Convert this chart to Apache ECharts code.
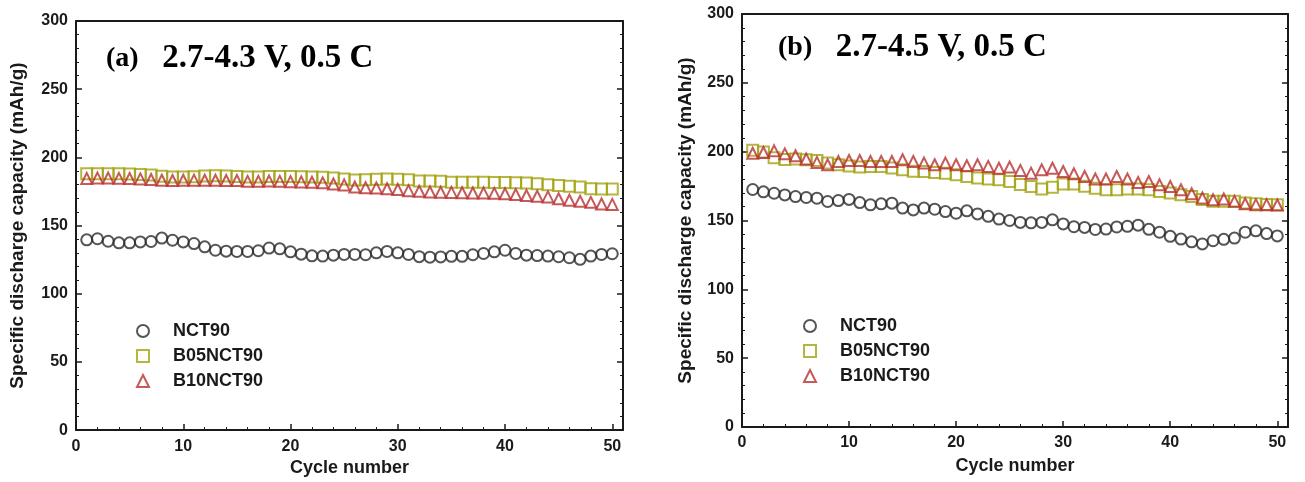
<!DOCTYPE html>
<html>
<head>
<meta charset="utf-8">
<script src="https://cdn.jsdelivr.net/npm/echarts@6/dist/echarts.min.js"></script>
<style>
  html, body { margin: 0; padding: 0; background: #fff; }
  #chart { width: 1305px; height: 482px; }
</style>
</head>
<body>
<div id="chart"></div>
<script>
// Cycle index shared by both panels
const cycles = [1,2,3,4,5,6,7,8,9,10,11,12,13,14,15,16,17,18,19,20,21,22,23,24,25,
                26,27,28,29,30,31,32,33,34,35,36,37,38,39,40,41,42,43,44,45,46,47,48,49,50];

// Panel (a): 2.7-4.3 V, 0.5 C  (mAh/g)
const nct90A = [139.5,140.3,138.5,137.3,137.3,138.0,138.3,140.8,139.2,138.0,136.8,134.4,131.9,131.2,131.0,
                131.0,131.5,133.5,132.9,130.7,129.0,127.8,127.6,128.3,128.8,128.8,128.6,130.0,131.0,130.0,
                128.8,127.2,126.8,127.0,127.4,127.4,128.6,129.5,130.7,131.9,129.5,128.3,128.0,127.6,127.1,
                126.4,125.2,127.6,128.8,129.3];
const b05A   = [188.0,188.0,188.0,188.0,187.8,187.5,187.0,186.1,185.6,185.6,185.8,186.4,186.6,186.4,186.0,
                185.6,185.6,186.0,186.0,186.0,185.8,185.6,185.4,184.9,184.2,183.4,183.6,184.0,184.1,184.0,
                183.6,182.7,182.6,182.5,181.8,181.7,181.7,181.7,181.6,181.6,181.3,181.2,180.7,180.0,179.3,
                178.8,178.3,177.0,176.8,176.8];
const b10A   = [184.5,184.8,184.8,184.6,184.5,184.2,183.8,183.2,183.0,183.2,183.3,183.2,183.2,183.0,183.0,
                182.4,182.4,182.6,182.4,182.2,182.0,181.8,181.3,180.5,179.8,178.2,177.8,177.6,177.0,176.4,
                175.6,175.2,174.6,174.4,174.3,174.0,173.9,173.8,173.6,173.3,172.7,172.0,171.5,171.0,169.6,
                168.6,167.8,167.0,165.8,165.5];

// Panel (b): 2.7-4.5 V, 0.5 C  (mAh/g)
const nct90B = [172.5,170.8,169.8,168.6,167.4,166.7,166.2,163.8,164.5,165.3,163.0,161.4,162.1,162.6,159.0,
                157.7,159.0,158.2,156.5,155.3,157.0,154.8,153.0,151.0,150.0,148.6,148.3,148.6,150.5,147.5,
                145.5,145.0,143.5,143.8,145.3,145.8,146.6,143.6,141.5,138.5,136.5,134.5,133.0,135.3,136.3,
                137.2,141.5,142.5,140.5,138.8];
const b05B   = [201.0,199.8,195.6,194.3,194.6,194.2,193.6,191.7,190.5,189.5,188.8,189.2,189.2,188.1,186.8,
                185.8,185.6,184.9,184.4,183.3,182.0,180.8,180.1,179.6,178.3,176.1,174.7,172.8,174.2,176.6,
                176.6,174.8,173.5,172.4,172.4,172.8,172.8,172.3,171.1,169.9,168.7,167.5,165.2,164.0,164.0,
                163.9,162.8,162.2,161.6,161.5];
const b10B   = [198.9,199.4,200.6,198.4,197.0,194.6,192.2,190.5,192.9,193.6,193.6,192.9,192.9,192.9,194.1,
                192.9,191.7,190.5,191.7,190.5,189.8,190.5,189.3,188.0,188.8,186.4,184.4,186.8,188.0,185.6,
                183.9,182.0,180.1,180.1,182.0,180.1,177.6,178.3,175.9,174.7,172.3,169.4,166.3,165.1,165.6,
                163.9,162.2,161.5,161.5,161.3];

// Axis ticks
const xMajorTicks = [0,10,20,30,40,50];
const xMinorTicks = [2,4,6,8,12,14,16,18,22,24,26,28,32,34,36,38,42,44,46,48];
const seriesNames = ['NCT90','B05NCT90','B10NCT90'];
const panelLabels = ['(a)', '(b)'];
const panelConditions = ['2.7-4.3 V, 0.5 C', '2.7-4.5 V, 0.5 C'];

const SANS = '"Liberation Sans", Arial, sans-serif';
const SERIF = '"Liberation Serif", "Times New Roman", serif';
const INK = '#1a1a1a';
const COLORS = ['#2b2b2b', '#a3a312', '#b8302f'];
const SYMBOLS = ['circle', 'rect', 'triangle'];
const SIZES = [11, 11, 11];

const grids = [
  { left: 76, top: 21, width: 547, height: 410 },
  { left: 742, top: 14, width: 546, height: 413 }
];

function xAxesFor(gi, nameGap) {
  return [
    { // bottom axis: labels, major ticks, name
      type: 'value', gridIndex: gi, position: 'bottom', min: 0, max: 51,
      name: 'Cycle number', nameLocation: 'middle', nameGap: nameGap,
      nameTextStyle: { fontFamily: SANS, fontWeight: 'bold', fontSize: 18, color: INK },
      axisLine: { show: true, onZero: false, lineStyle: { color: INK, width: 2 } },
      axisTick: { show: true, inside: true, length: 6, customValues: xMajorTicks, lineStyle: { color: INK, width: 1.5 } },
      axisLabel: { show: true, customValues: xMajorTicks, margin: 8,
                   fontFamily: SANS, fontWeight: 'bold', fontSize: 16, color: INK },
      splitLine: { show: false }
    },
    { // bottom minor ticks
      type: 'value', gridIndex: gi, position: 'bottom', min: 0, max: 51,
      axisLine: { show: false },
      axisTick: { show: true, inside: true, length: 3, customValues: xMinorTicks, lineStyle: { color: INK, width: 1 } },
      axisLabel: { show: false }, splitLine: { show: false }
    },
    { // top frame
      type: 'value', gridIndex: gi, position: 'top', min: 0, max: 51,
      axisLine: { show: true, onZero: false, lineStyle: { color: INK, width: 2 } },
      axisTick: { show: false }, axisLabel: { show: false }, splitLine: { show: false }
    }
  ];
}

function yAxesFor(gi, nameGap) {
  return [
    {
      type: 'value', gridIndex: gi, position: 'left', min: 0, max: 300, interval: 50,
      name: 'Specific discharge capacity (mAh/g)', nameLocation: 'middle', nameGap: nameGap,
      nameTextStyle: { fontFamily: SANS, fontWeight: 'bold', fontSize: 19, color: INK },
      axisLine: { show: true, onZero: false, lineStyle: { color: INK, width: 2 } },
      axisTick: { show: true, inside: true, length: 6, lineStyle: { color: INK, width: 1.5 } },
      minorTick: { show: true, splitNumber: 5, length: 3, lineStyle: { color: INK, width: 1 } },
      axisLabel: { margin: 8, fontFamily: SANS, fontWeight: 'bold', fontSize: 16, color: INK },
      splitLine: { show: false }
    },
    {
      type: 'value', gridIndex: gi, position: 'right', min: 0, max: 300, interval: 50,
      axisLine: { show: true, onZero: false, lineStyle: { color: INK, width: 2 } },
      axisTick: { show: true, inside: true, length: 6, lineStyle: { color: INK, width: 1.5 } },
      minorTick: { show: true, splitNumber: 5, length: 3, lineStyle: { color: INK, width: 1 } },
      axisLabel: { show: false }, splitLine: { show: false }
    }
  ];
}

function scatterSeries(values, k, gi) {
  return {
    type: 'scatter', name: seriesNames[k],
    xAxisIndex: gi * 3, yAxisIndex: gi * 2,
    data: cycles.map((c, i) => [c, values[i]]),
    symbol: SYMBOLS[k], symbolSize: SIZES[k],
    itemStyle: { color: 'rgba(255,255,255,0)', borderColor: COLORS[k], borderWidth: 2 },
    z: 3 + k
  };
}

function legendFor(left, top) {
  return {
    data: seriesNames.map((n, k) => ({ name: n, icon: SYMBOLS[k] })),
    orient: 'vertical', left: left, top: top,
    itemWidth: 12, itemHeight: 12, itemGap: 7, selectedMode: false,
    itemStyle: { color: 'rgba(255,255,255,0)', borderWidth: 2 },
    textStyle: { fontFamily: SANS, fontWeight: 'bold', fontSize: 18, color: INK,
                 lineHeight: 18, padding: [0, 0, 0, 19] }
  };
}

function panelTitle(i, left, top) {
  return {
    text: '{p|' + panelLabels[i] + '}  {t|' + panelConditions[i] + '}',
    left: left, top: top,
    textStyle: {
      fontFamily: SERIF, fontWeight: 'bold', fontSize: 33, color: '#000',
      rich: {
        p: { fontFamily: SERIF, fontWeight: 'bold', fontSize: 28, color: '#000', padding: [0, 7, 0, 0] },
        t: { fontFamily: SERIF, fontWeight: 'bold', fontSize: 33, color: '#000' }
      }
    }
  };
}

const chart = echarts.init(document.getElementById('chart'), null, { renderer: 'canvas' });
chart.setOption({
  backgroundColor: '#ffffff',
  animation: false,
  title: [ panelTitle(0, 101, 37), panelTitle(1, 773, 26) ],
  legend: [ legendFor(131, 317), legendFor(798, 312) ],
  grid: grids,
  xAxis: [].concat(xAxesFor(0, 27), xAxesFor(1, 30)),
  yAxis: [].concat(yAxesFor(0, 49), yAxesFor(1, 47)),
  series: [
    scatterSeries(nct90A, 0, 0), scatterSeries(b05A, 1, 0), scatterSeries(b10A, 2, 0),
    scatterSeries(nct90B, 0, 1), scatterSeries(b05B, 1, 1), scatterSeries(b10B, 2, 1)
  ]
});
</script>
</body>
</html>
